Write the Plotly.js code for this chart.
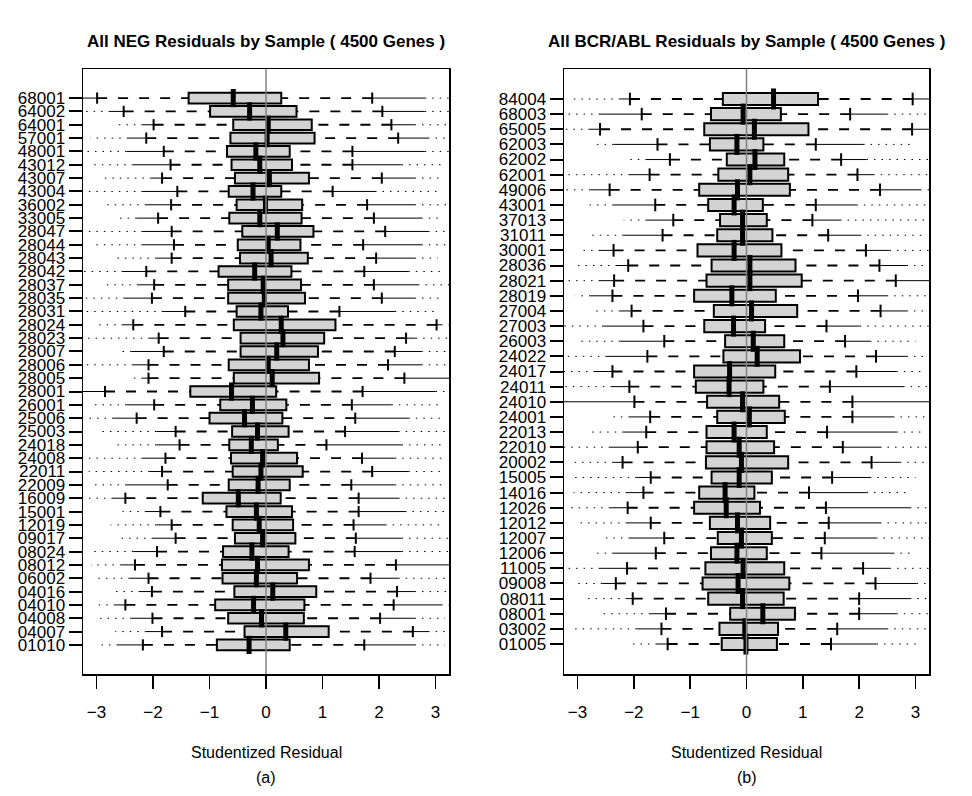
<!DOCTYPE html>
<html><head><meta charset="utf-8">
<script src="https://cdn.plot.ly/plotly-3.0.1.min.js"></script>
<style>html,body{margin:0;padding:0;background:#fff}#chart{width:972px;height:796px}</style>
</head><body><div id="chart"></div>
<script>
// ---------- Panel (a): NEG samples, listed top to bottom ----------
const negSamples = ["68001","64002","64001","57001","48001","43012","43007","43004","36002","33005","28047","28044","28043","28042","28037","28035","28031","28024","28023","28007","28006","28005","28001","26001","25006","25003","24018","24008","22011","22009","16009","15001","12019","09017","08024","08012","06002","04016","04010","04008","04007","01010"];
const negLowMin   = [-3.4,-3.2,-2.64,-3.11,-3.4,-3.08,-2.88,-3.4,-2.85,-2.67,-3.18,-3.03,-2.66,-3.4,-2.87,-3.4,-3.4,-3.03,-3.4,-2.63,-3.4,-2.42,-3.4,-3.11,-3.14,-2.97,-2.7,-3.4,-3.14,-3.07,-3.4,-2.54,-2.75,-2.66,-3.13,-3.1,-3.03,-2.66,-3.03,-3.01,-2.67,-3.01];
const negLowSolid = [-3.4,-2.76,-2.18,-2.44,-2.47,-2.35,-2.03,-2.18,-2.12,-2.29,-2.18,-2.18,-1.94,-2.53,-2.26,-2.5,-1.82,-2.53,-2.06,-2.38,-2.35,-2.18,-3.4,-2.47,-2.7,-1.94,-1.94,-2.18,-2.06,-2.47,-2.71,-2.12,-1.94,-2.0,-2.35,-2.56,-2.41,-2.23,-2.67,-2.38,-2.12,-2.62];
const negWhiskLo  = [-2.99,-2.52,-1.99,-2.12,-1.81,-1.69,-1.84,-1.57,-1.68,-1.91,-1.67,-1.63,-1.67,-2.12,-1.98,-2.02,-1.43,-2.35,-1.9,-1.81,-2.08,-2.08,-2.85,-1.98,-2.29,-1.6,-1.53,-1.78,-1.84,-1.74,-2.49,-1.87,-1.67,-1.6,-1.93,-2.32,-2.08,-2.02,-2.49,-2.01,-1.84,-2.18];
const negQ1       = [-1.37,-0.99,-0.58,-0.63,-0.69,-0.61,-0.55,-0.66,-0.52,-0.65,-0.42,-0.5,-0.46,-0.84,-0.67,-0.67,-0.52,-0.57,-0.45,-0.45,-0.66,-0.57,-1.34,-0.81,-1.0,-0.6,-0.65,-0.62,-0.59,-0.66,-1.12,-0.7,-0.59,-0.55,-0.76,-0.78,-0.77,-0.56,-0.9,-0.67,-0.38,-0.87];
const negMedian   = [-0.58,-0.29,0.04,0.02,-0.18,-0.11,0.06,-0.23,-0.01,-0.11,0.2,0.04,0.09,-0.2,-0.05,-0.03,-0.09,0.27,0.3,0.19,0.04,0.11,-0.61,-0.24,-0.38,-0.15,-0.26,-0.06,-0.09,-0.14,-0.49,-0.17,-0.12,-0.06,-0.25,-0.15,-0.17,0.12,-0.22,-0.08,0.35,-0.3];
const negQ3       = [0.27,0.54,0.81,0.86,0.42,0.46,0.76,0.27,0.64,0.63,0.84,0.61,0.74,0.45,0.62,0.69,0.39,1.23,1.03,0.92,0.76,0.94,0.18,0.36,0.29,0.4,0.21,0.55,0.65,0.42,0.26,0.46,0.48,0.52,0.4,0.76,0.55,0.89,0.68,0.67,1.11,0.42];
const negWhiskHi  = [1.88,2.06,2.22,2.34,1.53,1.53,2.05,1.18,1.79,1.91,2.11,1.72,1.95,1.74,1.91,2.05,1.3,3.02,2.48,2.28,2.16,2.45,1.71,1.52,1.58,1.4,1.07,1.7,1.88,1.51,1.64,1.64,1.55,1.59,1.57,2.3,1.85,2.32,2.26,2.02,2.6,1.74];
const negHiSolid  = [2.81,2.81,2.63,2.87,2.81,2.4,2.63,1.93,2.63,2.75,2.87,2.75,2.63,2.52,2.69,2.63,2.28,3.1,2.65,2.75,2.75,3.4,3.0,2.22,2.52,2.34,2.4,2.28,2.52,2.28,2.34,2.46,2.11,2.4,2.4,3.4,2.34,2.63,3.1,2.63,2.87,2.63];
const negHiMax    = [3.4,3.4,3.4,3.4,3.4,3.1,3.07,3.04,3.4,3.13,3.4,3.4,3.04,3.1,3.4,3.07,3.04,3.4,3.4,3.4,3.4,3.4,3.4,3.13,3.1,3.4,3.1,3.17,3.17,3.17,3.4,3.17,3.07,3.4,3.4,3.4,3.4,3.4,3.4,3.17,3.4,3.17];

// ---------- Panel (b): BCR/ABL samples, listed top to bottom ----------
const bcrSamples = ["84004","68003","65005","62003","62002","62001","49006","43001","37013","31011","30001","28036","28021","28019","27004","27003","26003","24022","24017","24011","24010","24001","22013","22010","20002","15005","14016","12026","12012","12007","12006","11005","09008","08011","08001","03002","01005"];
const bcrLowMin   = [-3.1,-3.4,-3.4,-2.71,-2.07,-3.4,-3.4,-2.88,-2.18,-2.83,-2.96,-3.07,-3.4,-3.04,-2.77,-3.4,-3.01,-3.4,-3.4,-3.4,-3.4,-2.39,-2.77,-3.4,-3.05,-3.07,-3.07,-3.13,-3.04,-2.54,-2.76,-3.4,-3.01,-2.83,-2.6,-3.13,-2.12];
const bcrLowSolid = [-2.24,-2.6,-2.78,-2.36,-1.77,-2.07,-2.77,-2.36,-1.77,-2.18,-2.6,-2.3,-2.6,-2.77,-2.24,-2.54,-2.24,-2.48,-2.69,-2.39,-3.4,-2.07,-2.18,-2.42,-2.36,-1.95,-2.12,-2.42,-2.12,-2.07,-2.36,-2.6,-2.56,-2.12,-1.71,-1.95,-1.59];
const bcrWhiskLo  = [-2.07,-1.86,-2.6,-1.58,-1.36,-1.72,-2.43,-1.62,-1.3,-1.49,-2.36,-2.1,-2.35,-2.38,-2.04,-1.83,-1.46,-1.76,-2.38,-2.08,-1.99,-1.71,-1.78,-1.93,-2.2,-1.7,-1.83,-2.11,-1.7,-1.46,-1.61,-2.12,-2.32,-2.02,-1.43,-1.51,-1.4];
const bcrQ1       = [-0.42,-0.63,-0.75,-0.65,-0.35,-0.5,-0.84,-0.68,-0.47,-0.52,-0.87,-0.62,-0.71,-0.93,-0.58,-0.75,-0.38,-0.41,-0.93,-0.9,-0.7,-0.52,-0.71,-0.71,-0.72,-0.62,-0.84,-0.93,-0.65,-0.51,-0.63,-0.73,-0.78,-0.68,-0.29,-0.48,-0.44];
const bcrMedian   = [0.48,-0.06,0.14,-0.17,0.15,0.06,-0.16,-0.22,-0.07,-0.07,-0.22,0.06,0.06,-0.26,0.09,-0.23,0.12,0.19,-0.3,-0.31,-0.07,0.05,-0.22,-0.13,-0.09,-0.13,-0.38,-0.36,-0.16,-0.09,-0.17,-0.06,-0.15,-0.07,0.29,-0.03,-0.01];
const bcrQ3       = [1.27,0.61,1.1,0.3,0.67,0.74,0.77,0.29,0.36,0.46,0.62,0.87,0.98,0.52,0.9,0.33,0.67,0.95,0.51,0.3,0.58,0.68,0.36,0.49,0.74,0.45,0.14,0.24,0.42,0.45,0.36,0.67,0.76,0.66,0.86,0.56,0.54];
const bcrWhiskHi  = [2.95,1.84,2.94,1.23,1.68,1.97,2.37,1.23,1.17,1.45,2.12,2.36,2.65,1.98,2.38,1.42,1.75,2.3,1.95,1.48,1.88,1.88,1.43,1.71,2.22,1.52,1.11,1.41,1.46,1.39,1.33,2.07,2.29,2.0,2.0,1.61,1.5];
const bcrHiSolid  = [3.4,2.49,3.4,2.07,2.13,2.25,3.08,1.95,1.66,2.01,2.54,2.84,3.4,2.49,2.84,2.01,2.19,2.84,2.66,2.78,3.4,2.6,2.66,2.37,2.72,2.19,2.13,2.9,2.37,2.3,2.6,2.54,3.02,2.9,2.66,2.49,2.31];
const bcrHiMax    = [3.4,3.4,3.4,2.96,3.3,3.4,3.4,3.3,3.3,3.2,3.4,3.4,3.4,3.4,3.4,3.3,3.0,3.4,3.1,3.4,3.4,3.2,3.1,3.4,3.4,3.0,2.9,3.4,3.4,3.4,3.0,3.4,3.4,3.4,3.4,3.4,3.1];

const refLine = 0;           // vertical reference at zero residual
const xTicks = [-3,-2,-1,0,1,2,3];
const xLimits = [-3, 3];     // R xlim, padded 4% each side

const FONT = "Liberation Sans, Arial, Helvetica, sans-serif";

function segs(a, b, ys) {
  const x = [], y = [];
  for (let i = 0; i < ys.length; i++) { x.push(a[i], b[i], null); y.push(ys[i], ys[i], null); }
  return {x, y};
}

function panelTraces(s, lowMin, lowSolid, wLo, q1, med, q3, wHi, hiSolid, hiMax, xa, ya, medSize, stapSize) {
  const tr = [];
  const wl = segs(wLo, q1, s), wh = segs(wHi, q3, s);
  tr.push({type:'scatter', mode:'lines', x: wl.x.concat(wh.x), y: wl.y.concat(wh.y), xaxis:xa, yaxis:ya,
           line:{color:'#000', width:1.8, dash:'10px,11px'}, hoverinfo:'skip', connectgaps:false});
  const ol = segs(wLo, lowSolid, s), oh = segs(wHi, hiSolid, s);
  tr.push({type:'scatter', mode:'lines', x: ol.x.concat(oh.x), y: ol.y.concat(oh.y), xaxis:xa, yaxis:ya,
           line:{color:'#000', width:1}, hoverinfo:'skip', connectgaps:false});
  const dl = segs(lowSolid, lowMin, s), dh = segs(hiSolid, hiMax, s);
  tr.push({type:'scatter', mode:'lines', x: dl.x.concat(dh.x), y: dl.y.concat(dh.y), xaxis:xa, yaxis:ya,
           line:{color:'#000', width:1, dash:'1.5px,6px'}, hoverinfo:'skip', connectgaps:false});
  tr.push({type:'box', orientation:'h', y: s, q1: q1, median: med, q3: q3, lowerfence: q1, upperfence: q3,
           xaxis:xa, yaxis:ya, width:0.8, boxpoints:false, fillcolor:'#d3d3d3',
           line:{color:'#000', width:2}, whiskerwidth:0, hoverinfo:'skip'});
  tr.push({type:'scatter', mode:'markers', x: wLo.concat(wHi), y: s.concat(s), xaxis:xa, yaxis:ya,
           marker:{symbol:'line-ns-open', color:'#000', size:stapSize, line:{color:'#000', width:2}}, hoverinfo:'skip'});
  tr.push({type:'scatter', mode:'markers', x: med, y: s, xaxis:xa, yaxis:ya,
           marker:{symbol:'line-ns-open', color:'#000', size:medSize, line:{color:'#000', width:5}}, hoverinfo:'skip'});
  return tr;
}

const data = [].concat(
  panelTraces(negSamples, negLowMin, negLowSolid, negWhiskLo, negQ1, negMedian, negQ3, negWhiskHi, negHiSolid, negHiMax, 'x', 'y', 13, 8),
  panelTraces(bcrSamples, bcrLowMin, bcrLowSolid, bcrWhiskLo, bcrQ1, bcrMedian, bcrQ3, bcrWhiskHi, bcrHiSolid, bcrHiMax, 'x2', 'y2', 15, 9)
);

const pad = 0.04 * (xLimits[1] - xLimits[0]);
const xr = [xLimits[0] - pad, xLimits[1] + pad];
function yRange(n) { return [n - 0.5 + 0.04 * n, -0.5 - 0.04 * n]; }

const xBase = {range: xr, tickvals: xTicks, ticks:'outside', ticklen:13, tickwidth:1.5, tickcolor:'#000',
  showline:true, mirror:true, linecolor:'#000', linewidth:1.5, showgrid:false, zeroline:false,
  tickfont:{family:FONT, size:17, color:'#000'}, ticklabelstandoff:9, fixedrange:true};
const yBase = {type:'category', tickmode:'array', ticks:'outside', ticklen:13, tickwidth:2, tickcolor:'#000',
  showline:true, mirror:true, linecolor:'#000', linewidth:1.5, showgrid:false, zeroline:false,
  tickfont:{family:FONT, size:17, color:'#000'}, domain:[122/796, 727/796], fixedrange:true};

const layout = {
  width:972, height:796, margin:{l:0, r:0, t:0, b:0}, showlegend:false,
  paper_bgcolor:'#fff', plot_bgcolor:'#fff',
  xaxis: Object.assign({}, xBase, {domain:[83/972, 449/972], anchor:'y'}),
  yaxis: Object.assign({}, yBase, {anchor:'x', categoryarray:negSamples, tickvals:negSamples, ticktext:negSamples, range:yRange(negSamples.length)}),
  xaxis2: Object.assign({}, xBase, {domain:[564/972, 929/972], anchor:'y2'}),
  yaxis2: Object.assign({}, yBase, {anchor:'x2', categoryarray:bcrSamples, tickvals:bcrSamples, ticktext:bcrSamples, range:yRange(bcrSamples.length)}),
  shapes: [
    {type:'line', xref:'x', yref:'y domain', x0:refLine, x1:refLine, y0:0, y1:1, layer:'above', line:{color:'#808080', width:1.5}},
    {type:'line', xref:'x2', yref:'y2 domain', x0:refLine, x1:refLine, y0:0, y1:1, layer:'above', line:{color:'#808080', width:1.5}}
  ],
  annotations: [
    {xref:'x domain', yref:'paper', x:0.5, y:(796-42)/796, yanchor:'middle', text:'<b>All NEG Residuals by Sample ( 4500 Genes )</b>', showarrow:false, font:{family:FONT, size:17, color:'#000'}},
    {xref:'x2 domain', yref:'paper', x:0.5, y:(796-42)/796, yanchor:'middle', text:'<b>All BCR/ABL Residuals by Sample ( 4500 Genes )</b>', showarrow:false, font:{family:FONT, size:17, color:'#000'}},
    {xref:'x domain', yref:'paper', x:0.5, y:(796-752)/796, yanchor:'middle', text:'Studentized Residual', showarrow:false, font:{family:FONT, size:16, color:'#000'}},
    {xref:'x2 domain', yref:'paper', x:0.5, y:(796-752)/796, yanchor:'middle', text:'Studentized Residual', showarrow:false, font:{family:FONT, size:16, color:'#000'}},
    {xref:'x domain', yref:'paper', x:0.5, y:(796-777)/796, yanchor:'middle', text:'(a)', showarrow:false, font:{family:FONT, size:16, color:'#000'}},
    {xref:'x2 domain', yref:'paper', x:0.5, y:(796-777)/796, yanchor:'middle', text:'(b)', showarrow:false, font:{family:FONT, size:16, color:'#000'}}
  ]
};

Plotly.newPlot('chart', data, layout, {displayModeBar:false, staticPlot:true});
</script>
</body></html>
